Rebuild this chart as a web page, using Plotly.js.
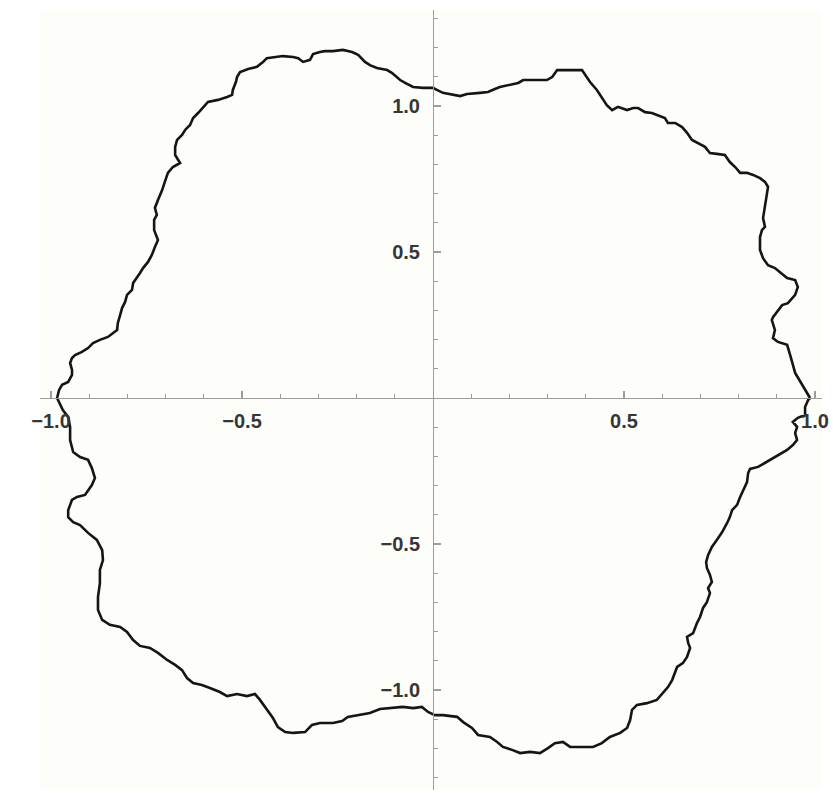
<!DOCTYPE html>
<html>
<head>
<meta charset="utf-8">
<script src="https://cdn.plot.ly/plotly-3.0.1.min.js"></script>
<style>
  html, body { margin: 0; padding: 0; background: #ffffff; }
  #chart { width: 833px; height: 793px; }
</style>
</head>
<body>
<div id="chart"></div>
<script>
// Closed curve, traced counter-clockwise starting at the right x-axis crossing
const curveX = [
  0.987, 0.969, 0.948, 0.935, 0.927, 0.903, 0.890, 0.895, 0.887, 0.890,
  0.903, 0.914, 0.929, 0.948, 0.955, 0.948, 0.927, 0.908, 0.895, 0.877,
  0.864, 0.856, 0.856, 0.861, 0.869, 0.864, 0.869, 0.874, 0.877, 0.869,
  0.856, 0.838, 0.822, 0.804, 0.791, 0.777, 0.764, 0.743, 0.725, 0.712,
  0.694, 0.678, 0.665, 0.652, 0.634, 0.615, 0.607, 0.589, 0.573, 0.555,
  0.537, 0.524, 0.508, 0.484, 0.469, 0.455, 0.442, 0.429, 0.411, 0.398,
  0.390, 0.359, 0.325, 0.312, 0.298, 0.262, 0.236, 0.223, 0.202, 0.175,
  0.162, 0.144, 0.123, 0.089, 0.071, 0.052, 0.026, 0.010, 0.000,
  -0.026, -0.052, -0.073, -0.086, -0.107, -0.120, -0.147, -0.165, -0.178, -0.196,
  -0.212, -0.236, -0.262, -0.283, -0.296, -0.314, -0.322, -0.340, -0.353, -0.366,
  -0.393, -0.419, -0.435, -0.445, -0.461, -0.484, -0.505, -0.513, -0.516, -0.524,
  -0.526, -0.539, -0.563, -0.589, -0.602, -0.615, -0.628, -0.636, -0.649, -0.657,
  -0.670, -0.675, -0.675, -0.668, -0.662, -0.681, -0.694, -0.702, -0.709, -0.720,
  -0.728, -0.723, -0.730, -0.730, -0.723, -0.720, -0.728, -0.736, -0.746, -0.759,
  -0.767, -0.775, -0.785, -0.788, -0.801, -0.806, -0.814, -0.819, -0.825, -0.827,
  -0.838, -0.851, -0.872, -0.890, -0.903, -0.919, -0.937, -0.945, -0.950, -0.945,
  -0.945, -0.955, -0.971, -0.979, -0.984,
  -0.969, -0.955, -0.950, -0.950, -0.942, -0.924, -0.903, -0.893, -0.885, -0.893,
  -0.903, -0.911, -0.932, -0.945, -0.955, -0.955, -0.942, -0.924, -0.903, -0.880,
  -0.866, -0.864, -0.872, -0.872, -0.877, -0.877, -0.866, -0.846, -0.819, -0.801,
  -0.785, -0.767, -0.741, -0.720, -0.696, -0.675, -0.657, -0.644, -0.628, -0.605,
  -0.584, -0.558, -0.539, -0.513, -0.487, -0.466, -0.453, -0.435, -0.419, -0.406,
  -0.387, -0.366, -0.335, -0.317, -0.296, -0.262, -0.238, -0.223, -0.191, -0.165,
  -0.139, -0.113, -0.079, -0.052, -0.029, -0.013, 0.005,
  0.026, 0.063, 0.079, 0.102, 0.118, 0.149, 0.168, 0.183, 0.207, 0.228,
  0.254, 0.280, 0.301, 0.319, 0.340, 0.359, 0.385, 0.419, 0.442, 0.463,
  0.490, 0.508, 0.516, 0.521, 0.534, 0.560, 0.586, 0.602, 0.615, 0.626,
  0.634, 0.639, 0.654, 0.665, 0.673, 0.668, 0.665, 0.681, 0.691, 0.699,
  0.707, 0.717, 0.725, 0.720, 0.730, 0.725, 0.717, 0.715, 0.720, 0.730,
  0.743, 0.757, 0.770, 0.777, 0.783, 0.796, 0.804, 0.812, 0.822, 0.825,
  0.830, 0.851, 0.874, 0.901, 0.927, 0.942, 0.953, 0.948, 0.953, 0.942,
  0.955, 0.974, 0.974, 0.982, 0.987
];
const curveY = [
  0.000, 0.038, 0.086, 0.147, 0.182, 0.192, 0.205, 0.233, 0.267, 0.277,
  0.301, 0.318, 0.325, 0.353, 0.380, 0.404, 0.411, 0.432, 0.445, 0.455,
  0.479, 0.507, 0.551, 0.575, 0.586, 0.616, 0.654, 0.688, 0.723, 0.740,
  0.753, 0.764, 0.771, 0.771, 0.791, 0.808, 0.832, 0.836, 0.839, 0.860,
  0.873, 0.884, 0.908, 0.928, 0.942, 0.942, 0.959, 0.969, 0.976, 0.979,
  0.993, 0.993, 0.986, 0.997, 0.986, 1.003, 1.031, 1.055, 1.082, 1.106,
  1.123, 1.123, 1.123, 1.099, 1.089, 1.089, 1.089, 1.079, 1.072, 1.065,
  1.058, 1.048, 1.045, 1.041, 1.034, 1.038, 1.045, 1.055, 1.062,
  1.062, 1.065, 1.079, 1.089, 1.113, 1.123, 1.130, 1.140, 1.151, 1.175,
  1.185, 1.192, 1.188, 1.188, 1.185, 1.178, 1.158, 1.151, 1.164, 1.168,
  1.171, 1.168, 1.164, 1.151, 1.134, 1.127, 1.116, 1.099, 1.082, 1.055,
  1.038, 1.031, 1.021, 1.014, 0.993, 0.976, 0.959, 0.935, 0.918, 0.901,
  0.884, 0.860, 0.832, 0.815, 0.805, 0.791, 0.771, 0.740, 0.712, 0.678,
  0.651, 0.627, 0.610, 0.575, 0.551, 0.541, 0.517, 0.490, 0.466, 0.445,
  0.428, 0.414, 0.394, 0.370, 0.353, 0.329, 0.308, 0.284, 0.257, 0.233,
  0.223, 0.209, 0.199, 0.188, 0.171, 0.158, 0.147, 0.137, 0.120, 0.096,
  0.079, 0.055, 0.045, 0.027, 0.000,
  -0.041, -0.065, -0.099, -0.144, -0.185, -0.202, -0.212, -0.240, -0.274, -0.298,
  -0.315, -0.332, -0.339, -0.349, -0.384, -0.408, -0.425, -0.435, -0.462, -0.486,
  -0.521, -0.555, -0.589, -0.634, -0.682, -0.726, -0.760, -0.777, -0.784, -0.801,
  -0.829, -0.849, -0.856, -0.873, -0.897, -0.914, -0.932, -0.959, -0.976, -0.983,
  -0.993, -1.007, -1.021, -1.014, -1.021, -1.014, -1.034, -1.068, -1.096, -1.127,
  -1.144, -1.147, -1.144, -1.120, -1.113, -1.113, -1.106, -1.092, -1.086, -1.079,
  -1.065, -1.062, -1.058, -1.062, -1.058, -1.075, -1.086,
  -1.086, -1.092, -1.110, -1.130, -1.154, -1.161, -1.178, -1.195, -1.205, -1.216,
  -1.212, -1.216, -1.199, -1.182, -1.178, -1.195, -1.195, -1.195, -1.182, -1.161,
  -1.147, -1.130, -1.103, -1.068, -1.051, -1.045, -1.034, -1.010, -0.990, -0.966,
  -0.942, -0.921, -0.908, -0.887, -0.856, -0.839, -0.818, -0.805, -0.771, -0.750,
  -0.719, -0.699, -0.668, -0.651, -0.630, -0.606, -0.582, -0.562, -0.538, -0.510,
  -0.486, -0.459, -0.428, -0.408, -0.384, -0.366, -0.339, -0.315, -0.288, -0.257,
  -0.243, -0.236, -0.219, -0.199, -0.178, -0.161, -0.144, -0.120, -0.099, -0.082,
  -0.068, -0.058, -0.031, -0.007, 0.000
];

// Tick labels
const xTickVals = [-1.0, -0.5, 0.5, 1.0];
const xTickText = ['\u22121.0', '\u22120.5', '0.5', '1.0'];
const yTickVals = [-1.0, -0.5, 0.5, 1.0];
const yTickText = ['\u22121.0', '\u22120.5', '0.5', '1.0'];
const xMinorVals = [-1.0, -0.9, -0.8, -0.7, -0.6, -0.5, -0.4, -0.3, -0.2, -0.1, 0.1, 0.2, 0.3, 0.4, 0.5, 0.6, 0.7, 0.8, 0.9, 1.0];
const yMinorVals = [-1.3, -1.2, -1.1, -1.0, -0.9, -0.8, -0.7, -0.6, -0.5, -0.4, -0.3, -0.2, -0.1, 0.1, 0.2, 0.3, 0.4, 0.5, 0.6, 0.7, 0.8, 0.9, 1.0, 1.1, 1.2, 1.3];

const xRange = [-1.0288, 1.0183];
const yRange = [-1.3425, 1.3288];

const axisColor = '#9c9c9c';
const tickFont = { family: 'Liberation Sans, Arial, sans-serif', size: 20, color: '#363636', weight: 'bold' };

const trace = {
  type: 'scatter',
  mode: 'lines',
  x: curveX,
  y: curveY,
  line: { color: '#151515', width: 2.6, shape: 'linear' },
  hoverinfo: 'skip'
};

const layout = {
  width: 833,
  height: 793,
  margin: { l: 40, r: 11, t: 10, b: 3, pad: 0 },
  paper_bgcolor: '#ffffff',
  plot_bgcolor: '#fdfdf9',
  showlegend: false,
  xaxis: {
    range: xRange,
    anchor: 'free',
    position: (0 - yRange[0]) / (yRange[1] - yRange[0]),
    showgrid: false,
    zeroline: false,
    showline: true,
    linecolor: axisColor,
    linewidth: 1.4,
    tickmode: 'array',
    tickvals: xTickVals,
    ticktext: xTickText,
    ticks: 'inside',
    ticklen: 7,
    tickwidth: 1.2,
    tickcolor: axisColor,
    tickfont: tickFont,
    ticklabelstandoff: 5,
    minor: { tickmode: 'array', tickvals: xMinorVals, ticks: 'inside', ticklen: 4, tickwidth: 1, tickcolor: axisColor, showgrid: false }
  },
  yaxis: {
    range: yRange,
    anchor: 'free',
    position: (0 - xRange[0]) / (xRange[1] - xRange[0]),
    showgrid: false,
    zeroline: false,
    showline: true,
    linecolor: axisColor,
    linewidth: 1.4,
    tickmode: 'array',
    tickvals: yTickVals,
    ticktext: yTickText,
    ticks: 'inside',
    ticklen: 7,
    tickwidth: 1.2,
    tickcolor: axisColor,
    tickfont: tickFont,
    ticklabelstandoff: 9,
    minor: { tickmode: 'array', tickvals: yMinorVals, ticks: 'inside', ticklen: 4, tickwidth: 1, tickcolor: axisColor, showgrid: false }
  }
};

Plotly.newPlot('chart', [trace], layout, { displayModeBar: false, staticPlot: true });
</script>
</body>
</html>
